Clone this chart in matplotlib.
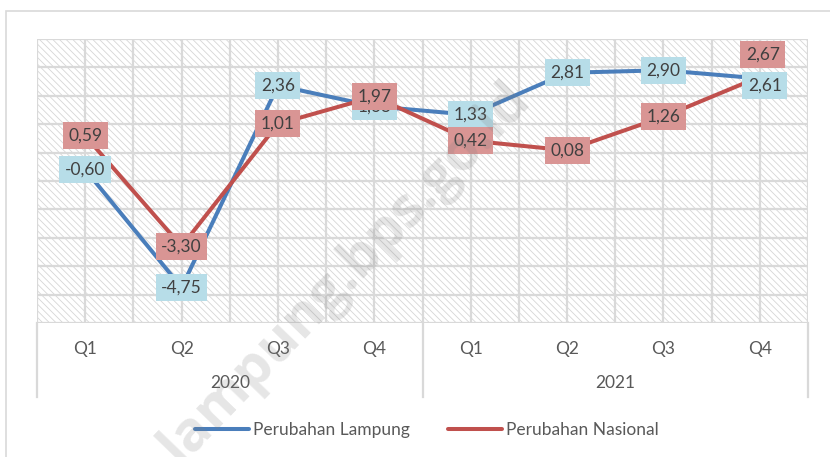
import matplotlib
matplotlib.use("Agg")
import matplotlib.pyplot as plt
import numpy as np
from matplotlib.patches import Rectangle
from matplotlib.lines import Line2D
import matplotlib.transforms as mtransforms

# ---- data ----
quarters = ["Q1", "Q2", "Q3", "Q4", "Q1", "Q2", "Q3", "Q4"]
years = ["2020", "2021"]
lampung = [-0.60, -4.75, 2.36, 1.63, 1.33, 2.81, 2.90, 2.61]
nasional = [0.59, -3.30, 1.01, 1.97, 0.42, 0.08, 1.26, 2.67]
series_names = ["Perubahan Lampung", "Perubahan Nasional"]

# ---- style ----
plt.rcParams['font.family'] = ['Lato', 'DejaVu Sans']
plt.rcParams['hatch.color'] = '#d6d6d6'
plt.rcParams['hatch.linewidth'] = 0.6
BLUE = '#4a7ebb'
RED = '#c0504d'
BLUE_BOX = '#b7dde8'
RED_BOX = '#d99594'
TXT = '#404040'
AX_TXT = '#595959'
GRID = '#d9d9d9'
FS = 12.5

W, H = 830, 457
fig = plt.figure(figsize=(W / 100, H / 100), dpi=100)
left, right, top, bottom = 37, 808, 39, 323
ax = fig.add_axes([left / W, 1 - bottom / H, (right - left) / W, (bottom - top) / H])

x = np.arange(len(quarters))
ax.set_xlim(-0.5, len(quarters) - 0.5)
ax.set_ylim(-6, 4)

# hatched background
bg = Rectangle((0, 0), 1, 1, transform=ax.transAxes, facecolor='white',
               edgecolor='#d6d6d6', hatch='\\' * 5, linewidth=0, zorder=0)
ax.add_patch(bg)
ax.patch.set_visible(False)

for s in ax.spines.values():
    s.set_visible(False)

ax.set_yticks(np.arange(-6, 5, 1))
ax.set_xticks(x)
ax.set_xticks(np.arange(-0.5, len(quarters), 1), minor=True)
ax.set_xticklabels(quarters, color=AX_TXT, fontsize=FS)
ax.tick_params(axis='x', which='both', length=0, pad=13)
ax.tick_params(axis='y', length=0, labelleft=False)
ax.grid(True, which='both', color=GRID, linewidth=1.6, zorder=1)
ax.set_axisbelow(True)

# category group lines and labels
trans = mtransforms.blended_transform_factory(ax.transData, ax.transAxes)
ybot = -(397 - bottom) / (bottom - top)
for xb in [-0.5, 3.5, 7.5]:
    ax.plot([xb, xb], [0, ybot], transform=trans, color=GRID, lw=1.6, clip_on=False)
for i, yr in enumerate(years):
    ax.text(1.5 + 4 * i, -(383 - bottom) / (bottom - top), yr, transform=trans,
            ha='center', va='center', color=AX_TXT, fontsize=FS)

# lines
ax.plot(x, lampung, color=BLUE, lw=2.9, solid_capstyle='round', solid_joinstyle='round', zorder=3)
ax.plot(x, nasional, color=RED, lw=2.9, solid_capstyle='round', solid_joinstyle='round', zorder=3)

def fmt(v):
    return f"{v:.2f}".replace('.', ',')

lamp_off = {7: (5, -7)}
nas_off = {7: (3, 22)}
for i, v in enumerate(lampung):
    dx, dy = lamp_off.get(i, (0, 0))
    ax.annotate(fmt(v), (x[i], v), xytext=(dx, dy), textcoords='offset pixels',
                ha='center', va='center', fontsize=FS, color=TXT, zorder=4,
                bbox=dict(boxstyle='square,pad=0.32', fc=BLUE_BOX, ec='none'))
for i, v in enumerate(nasional):
    dx, dy = nas_off.get(i, (0, 0))
    ax.annotate(fmt(v), (x[i], v), xytext=(dx, dy), textcoords='offset pixels',
                ha='center', va='center', fontsize=FS, color=TXT, zorder=5,
                bbox=dict(boxstyle='square,pad=0.32', fc=RED_BOX, ec='none'))

# legend
handles = [Line2D([0], [0], color=BLUE, lw=2.9, solid_capstyle='round'),
           Line2D([0], [0], color=RED, lw=2.9, solid_capstyle='round')]
leg = fig.legend(handles, series_names, loc='center', bbox_to_anchor=(427 / W, 1 - 430 / H),
                 ncol=2, frameon=False, handlelength=3.1, handletextpad=0.25,
                 columnspacing=2.2, fontsize=FS)
for t in leg.get_texts():
    t.set_color(AX_TXT)

# outer chart border
fig.patches.append(Rectangle((6 / W, -0.1), 1.1, 1.1 - 11 / H, transform=fig.transFigure,
                             fill=False, edgecolor=GRID, lw=1.2))

# watermark
fig.text(345 / W, 1 - 272 / H, "lampung.bps.go.id", rotation=46, fontsize=40,
         fontweight='bold', family=['Open Sans', 'DejaVu Sans'], color='#808080', alpha=0.2,
         ha='center', va='center', rotation_mode='anchor', zorder=10)

fig.savefig("out.png", dpi=100)
